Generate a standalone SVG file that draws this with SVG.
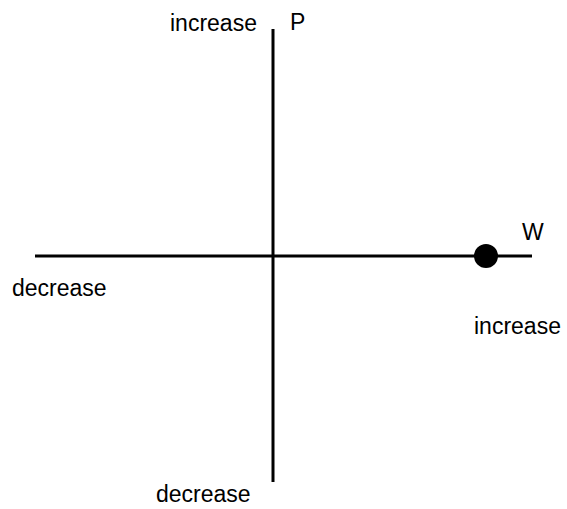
<svg xmlns="http://www.w3.org/2000/svg" width="567" height="509" viewBox="0 0 567 509">
<style>
.axis{stroke:#000;stroke-width:3;fill:none}
.lbl{font-family:"Liberation Sans",Arial,sans-serif;font-size:23px;fill:#000}
</style>
<rect width="567" height="509" fill="#fff"/>
<g id="connectors">
<line class="axis" x1="273" y1="29" x2="273" y2="482"/>
<line class="axis" x1="35" y1="256" x2="532" y2="256"/>
</g>
<g id="point"><circle cx="486" cy="256" r="12" fill="#000"/></g>
<g id="labels">
<text class="lbl" x="170" y="31">increase</text>
<text class="lbl" x="290" y="30">P</text>
<text class="lbl" x="12" y="296">decrease</text>
<text class="lbl" x="522" y="240">W</text>
<text class="lbl" x="474" y="334">increase</text>
<text class="lbl" x="156" y="502">decrease</text>
</g>
</svg>
